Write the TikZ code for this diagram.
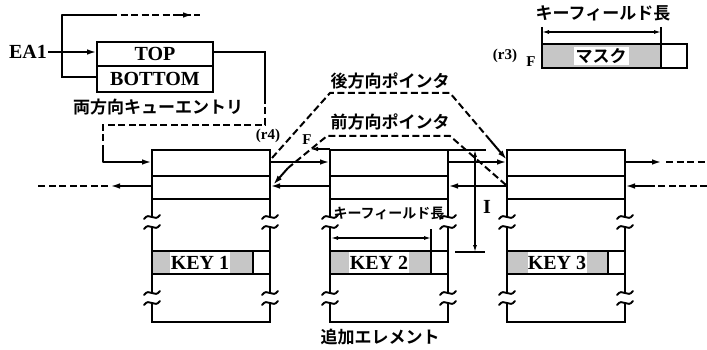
\documentclass[tikz,border=0pt]{standalone}
\usepackage{fontspec}
\setmainfont{Liberation Serif}
\newfontfamily\jp{Noto Sans CJK JP Bold}
\usetikzlibrary{arrows.meta}
\newcommand\brkmark[2]{\draw[el] ({#1-8},{#2+2}) .. controls ({#1-2.5},{#2-6}) and ({#1+2.5},{#2+6}) .. ({#1+8},{#2-2});}
\newcommand\drawelem[2]{%
  \pgfmathsetmacro\eR{#1+118}\pgfmathsetmacro\eK{#1+101}
  \draw[el] (#1,217) -- (#1,150) -- (\eR,150) -- (\eR,217);
  \draw[el] (#1,176) -- (\eR,176) (#1,199) -- (\eR,199);
  \brkmark{#1}{217}\brkmark{\eR}{217}\brkmark{#1}{227}\brkmark{\eR}{227}
  \fill[gray!45] (#1,251) rectangle (\eK,274);
  \draw[el] (#1,227) -- (#1,293) (\eR,227) -- (\eR,293);
  \draw[el] (#1,251) -- (\eR,251) (#1,274) -- (\eR,274) (\eK,251) -- (\eK,274);
  \brkmark{#1}{293}\brkmark{\eR}{293}\brkmark{#1}{303}\brkmark{\eR}{303}
  \draw[el] (#1,303) -- (#1,322) -- (\eR,322) -- (\eR,303);
  \coordinate (#2fl) at (#1,162); \coordinate (#2fr) at (\eR,162);
  \coordinate (#2bl) at (#1,186); \coordinate (#2br) at (\eR,186);
}
\begin{document}
\begin{tikzpicture}[x=1pt,y=-1pt,
  el/.style={line width=1.9pt, line cap=round},
  ptr/.style={line width=2pt, -{Latex[length=10pt,width=5.5pt]}},
  dsh/.style={line width=2pt, dash pattern=on 7pt off 3.5pt},
  dim/.style={line width=1.2pt, {Latex[length=7pt,width=4pt]}-{Latex[length=7pt,width=4pt]}},
  lat/.style={font=\fontsize{20}{22}\selectfont\bfseries, inner sep=1pt},
  jtxt/.style={font=\jp\fontsize{17}{19}\selectfont, inner sep=0pt},
  small/.style={font=\fontsize{15}{16}\selectfont\bfseries, inner sep=0pt},
  keytxt/.style={lat, inner sep=0pt},
]
\useasboundingbox (0,0) rectangle (707,350);

% queue entry
\node[lat] (ea1) at (28,52) {EA1};
\draw[el] (97,42) rectangle (213,92);
\draw[el] (97,66) -- (213,66);
\node[lat] (top) at (155,54) {TOP};
\node[lat] (bot) at (155,79) {BOTTOM};
\node[jtxt] (qlab) at (158,107) {両方向キューエントリ};
\coordinate (topl) at (97,52);
\coordinate (botl) at (97,77);
\coordinate (topr) at (213,52);
\coordinate (up) at (62,15);
\coordinate (upend) at (200,15);
\draw[ptr] (ea1.east) -- (topl);
\draw[el] (up) -- (62,77) -- (botl);
\draw[el] (up) -- (110,15);
\draw[dsh] (110,15) -- (upend);
\draw[ptr] (178,15) -- (193,15);

\drawelem{152}{a}
\drawelem{330}{b}
\drawelem{507}{c}

% link from queue entry to element 1
\draw[el] (topr) -- (265,52) -- (265,97);
\draw[dsh] (265,97) -- (265,125) -- (103,125) -- (103,147);
\draw[el] (103,147) -- (103,162);
\draw[ptr] (103,162) -- (afl);

% key labels
\fill[white] (170,252) rectangle (230,273);
\fill[white] (349,252) rectangle (409,273);
\fill[white] (528,252) rectangle (587,273);
\node[keytxt] (k1) at (200,263) {KEY 1};
\node[keytxt] (k2) at (379,263) {KEY 2};
\node[keytxt] (k3) at (557,263) {KEY 3};

% forward/backward links
\draw[ptr] (afr) -- (bfl);
\draw[ptr] (bfr) -- (cfl);
\coordinate (cfo) at (662,162);
\draw[ptr] (cfr) -- (cfo);
\draw[dsh] (666,162) -- (707,162);
\draw[ptr] (bbl) -- (abr);
\draw[ptr] (cbl) -- (bbr);
\draw[dsh] (707,186) -- (650,186);
\draw[ptr] (650,186) -- (cbr);
\coordinate (abo) at (110,186);
\draw[ptr] (abl) -- (abo);
\draw[dsh] (108,186) -- (38,186);

% dashed pointers
\coordinate (bp0) at (272,158);
\coordinate (bp1) at (507,160);
\draw[dsh] (bp0) -- (330,93) -- (450,93) -- (490,140);
\draw[line width=2pt, -{Latex[length=10pt,width=5.5pt]}] (490,140) -- (bp1);
\node[jtxt] (bplab) at (390,81) {後方向ポインタ};
\coordinate (fp0) at (506,185);
\coordinate (fp1) at (273,185);
\draw[dsh] (fp0) -- (450,136) -- (327,136) -- (288,168);
\draw[line width=2pt, -{Latex[length=10pt,width=5.5pt]}] (288,168) -- (fp1);
\node[jtxt] (fplab) at (390,122) {前方向ポインタ};

\node[small] (r4) at (268,136) {(r4)};
\node[small] (F1) at (307,140) {F};
\coordinate (f1) at (310,149);
\draw[line width=1.4pt, -{Latex[length=8pt,width=4.5pt]}] (330,149) -- (f1);

% key field length in element 2
\node[jtxt, font=\jp\fontsize{14}{15}\selectfont] (kfl2) at (389,213) {キーフィールド長};
\coordinate (d2a) at (331,238);
\coordinate (d2b) at (431,238);
\draw[dim] (d2a) -- (d2b);
\draw[line width=1.2pt] (431,229) -- (431,251);

% I dimension
\draw[line width=1.2pt] (448,150) -- (486,150);
\draw[line width=1.2pt] (455,252) -- (485,252);
\coordinate (i0) at (475,150);
\coordinate (i1) at (475,252);
\draw[dim] (i0) -- (i1);
\node[lat] (Ilab) at (487,207) {I};

% mask
\fill[gray!45] (542,44) rectangle (661,68);
\draw[el] (542,44) rectangle (687,68);
\draw[el] (661,44) -- (661,68);
\node[jtxt, fill=white, inner xsep=2pt, inner ysep=1pt] (mask) at (601,56) {マスク};
\node[small] (r3) at (505,56) {(r3)};
\node[small] (F2) at (531,62) {F};
\coordinate (m0) at (542,32);
\coordinate (m1) at (661,32);
\draw[dim] (m0) -- (m1);
\draw[line width=1.2pt] (542,27) -- (542,44) (661,27) -- (661,44);
\node[jtxt] (kfl) at (603,13) {キーフィールド長};

\node[jtxt] (add) at (380,337) {追加エレメント};
\end{tikzpicture}
\end{document}
